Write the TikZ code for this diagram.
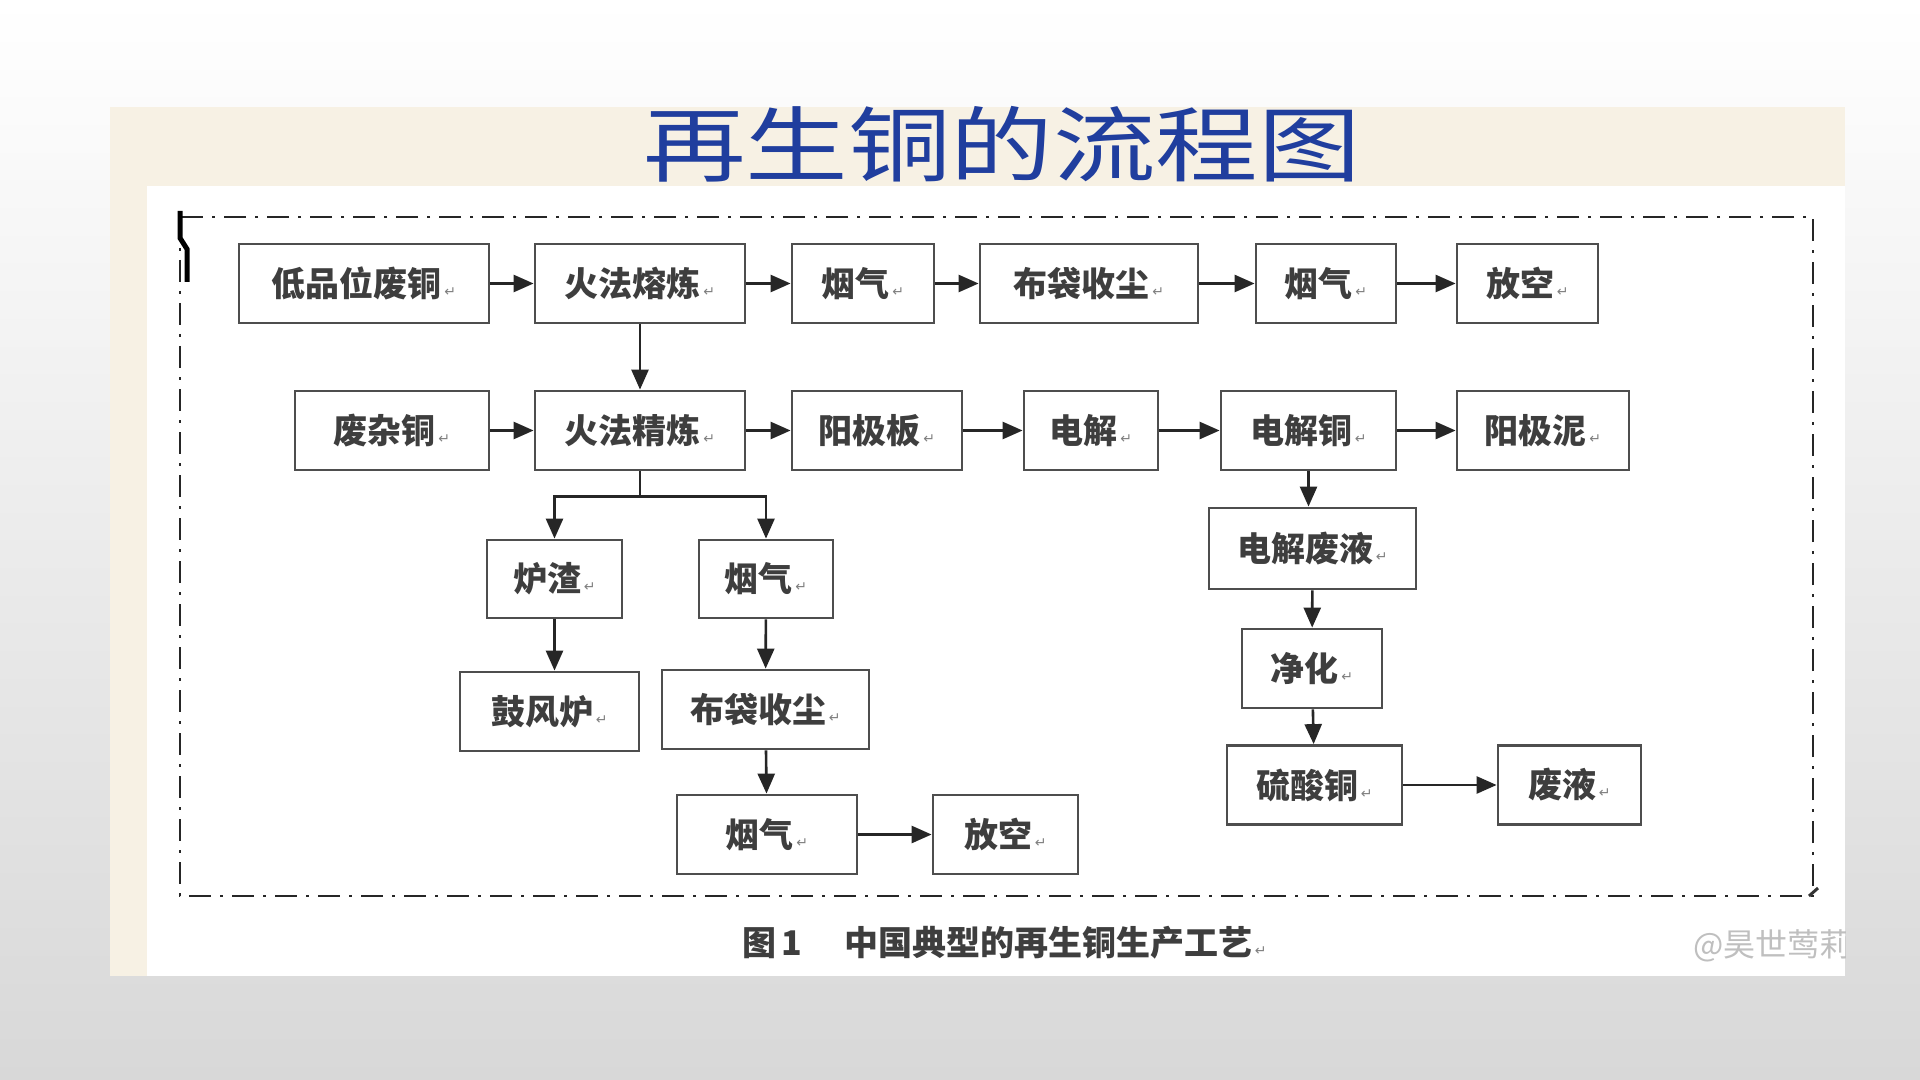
\documentclass[tikz,border=0pt]{standalone}
\usepackage{fontspec}
\usepackage{tikz}
\usetikzlibrary{arrows.meta}
\newfontfamily\cjk{Noto Sans CJK SC}
\newfontfamily\dvsans{DejaVu Sans}
\definecolor{titleblue}{RGB}{32,62,158}
\definecolor{cream}{RGB}{247,241,228}
\definecolor{slidegray}{RGB}{216,216,216}
\definecolor{boxline}{RGB}{78,78,78}
\definecolor{boxtext}{RGB}{62,62,62}
\newcommand{\retmark}{{\dvsans\mdseries\fontsize{7}{7}\selectfont\color{gray}\,↵}}

\begin{document}
\begin{tikzpicture}[x=0.5pt,y=-0.5pt,
  box/.style={draw=boxline,line width=1.4pt,fill=white,inner sep=0pt,minimum height=39.5pt,
    font=\cjk\bfseries\fontsize{17}{17}\selectfont,text=boxtext},
  arr/.style={-{Triangle[length=10pt,width=8.5pt]},line width=1.3pt,black!85}]
  \useasboundingbox (0,0) rectangle (1920,1080);
  % slide and panel
  \shade[top color=white,bottom color=slidegray] (0,0) rectangle (1920,1080);
  \fill[cream] (110,107) rectangle (1845,976);
  \fill[white] (147,186) rectangle (1845,976);
  \node[text=titleblue] (title) at (1002,144)
    {\scalebox{1.25}[1]{\cjk\fontsize{41}{41}\selectfont 再生铜的流程图}};
  % frame
  \draw[black!85,line width=1.3pt,dash pattern=on 11pt off 4.5pt on 1.5pt off 4.5pt]
    (180,217) rectangle (1813,896);
  \draw[black,line width=2.5pt] (180,211) -- (180,238) -- (187,249) -- (187,282);
  \draw[black!80,line width=1.5pt] (1809,896) -- (1818,888);

  % row 1
  \node[box,minimum width=125pt] (lowcu) at (364,283.5) {低品位废铜\retmark};
  \node[box,minimum width=105pt] (smelt) at (640,283.5) {火法熔炼\retmark};
  \node[box,minimum width=71pt] (fumeA) at (863,283.5) {烟气\retmark};
  \node[box,minimum width=109pt] (bagA) at (1089,283.5) {布袋收尘\retmark};
  \node[box,minimum width=70pt] (fumeB) at (1326,283.5) {烟气\retmark};
  \node[box,minimum width=70.5pt] (ventA) at (1527.5,283.5) {放空\retmark};
  % row 2
  \node[box,minimum width=97pt] (scrap) at (392,430.5) {废杂铜\retmark};
  \node[box,minimum width=105pt] (refine) at (640,430.5) {火法精炼\retmark};
  \node[box,minimum width=85pt] (anode) at (877,430.5) {阳极板\retmark};
  \node[box,minimum width=67pt] (elec) at (1091,430.5) {电解\retmark};
  \node[box,minimum width=87.5pt] (cathode) at (1308.5,430.5) {电解铜\retmark};
  \node[box,minimum width=86pt] (slime) at (1543,430.5) {阳极泥\retmark};
  % lower left branch
  \node[box,minimum width=67.5pt,minimum height=39pt] (slag) at (554.5,579) {炉渣\retmark};
  \node[box,minimum width=67pt,minimum height=39pt] (fumeC) at (766,579) {烟气\retmark};
  \node[box,minimum width=89.5pt] (blast) at (549.5,711.5) {鼓风炉\retmark};
  \node[box,minimum width=103.5pt] (bagB) at (765.5,709.5) {布袋收尘\retmark};
  \node[box,minimum width=90pt] (fumeD) at (767,834.5) {烟气\retmark};
  \node[box,minimum width=72.5pt] (ventB) at (1005.5,834.5) {放空\retmark};
  % lower right branch
  \node[box,minimum width=103.5pt,minimum height=40.5pt] (spent) at (1312.5,548.5) {电解废液\retmark};
  \node[box,minimum width=70pt] (purify) at (1312,668.5) {净化\retmark};
  \node[box,minimum width=87.5pt] (cuso) at (1314.5,785) {硫酸铜\retmark};
  \node[box,minimum width=71.5pt] (waste) at (1569.5,785) {废液\retmark};

  % arrows
  \draw[arr] (lowcu) -- (smelt);
  \draw[arr] (smelt) -- (fumeA);
  \draw[arr] (fumeA) -- (bagA);
  \draw[arr] (bagA) -- (fumeB);
  \draw[arr] (fumeB) -- (ventA);
  \draw[arr] (smelt) -- (refine);
  \draw[arr] (scrap) -- (refine);
  \draw[arr] (refine) -- (anode);
  \draw[arr] (anode) -- (elec);
  \draw[arr] (elec) -- (cathode);
  \draw[arr] (cathode) -- (slime);
  \draw[arr] (refine.south) -- ++(0,25) -| (slag.north);
  \draw[arr] (refine.south) -- ++(0,25) -| (fumeC.north);
  \draw[arr] (slag.south) -- (slag.south |- blast.north);
  \draw[arr] (fumeC) -- (bagB);
  \draw[arr] (bagB) -- (fumeD);
  \draw[arr] (fumeD) -- (ventB);
  \draw[arr] (cathode.south) -- (cathode.south |- spent.north);
  \draw[arr] (spent) -- (purify);
  \draw[arr] (purify) -- (cuso);
  \draw[arr] (cuso) -- (waste);

  % caption and watermark
  \node[anchor=west,text=boxtext,font=\cjk\bfseries\fontsize{17}{17}\selectfont] (caption) at (735,943)
    {图\,1\hspace{21pt}中国典型的再生铜生产工艺\retmark};
  \begin{scope}
    \clip (110,107) rectangle (1845,976);
    \node[anchor=west,text=black!25,font=\cjk\fontsize{16}{16}\selectfont] (mark) at (1686,946) {@昊世莺莉};
  \end{scope}
\end{tikzpicture}
\end{document}
